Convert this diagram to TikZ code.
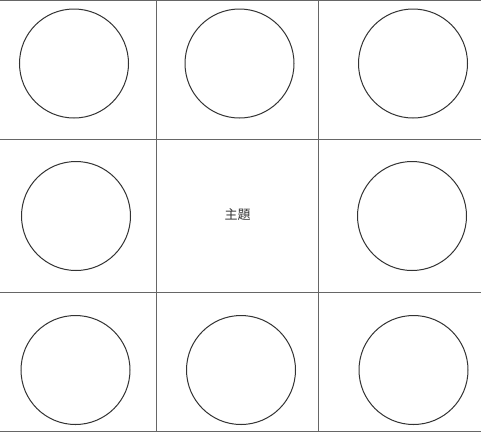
\documentclass[tikz,border=0pt]{standalone}
\usepackage{fontspec}
\newfontfamily\cjk{Noto Sans CJK TC}
\begin{document}
\begin{tikzpicture}[x=1pt,y=-1pt,
  gridline/.style={draw=black!60,line width=1pt},
  ring/.style={circle,draw=black!80,line width=1pt,minimum size=109pt,inner sep=0pt},
  label/.style={font=\cjk\fontsize{13pt}{15pt}\selectfont,text=black!80}]
\useasboundingbox[fill=white] (0,0) rectangle (481,432);
% grid
\draw[gridline] (0,0.6) -- (481,0.6);
\draw[gridline] (0,431.4) -- (481,431.4);
\draw[gridline] (0,139) -- (481,139);
\draw[gridline] (0,292) -- (481,292);
\draw[gridline] (156,0) -- (156,432);
\draw[gridline] (318,0) -- (318,432);
% circles
\node[ring] (c11) at (74,63.5) {};
\node[ring] (c12) at (239.5,63.5) {};
\node[ring] (c13) at (413,63.5) {};
\node[ring] (c21) at (76,216) {};
\node[label] (theme) at (237.5,215) {主題};
\node[ring] (c23) at (412,216) {};
\node[ring] (c31) at (75.5,370) {};
\node[ring] (c32) at (241,370) {};
\node[ring] (c33) at (413.5,370) {};
\end{tikzpicture}
\end{document}
